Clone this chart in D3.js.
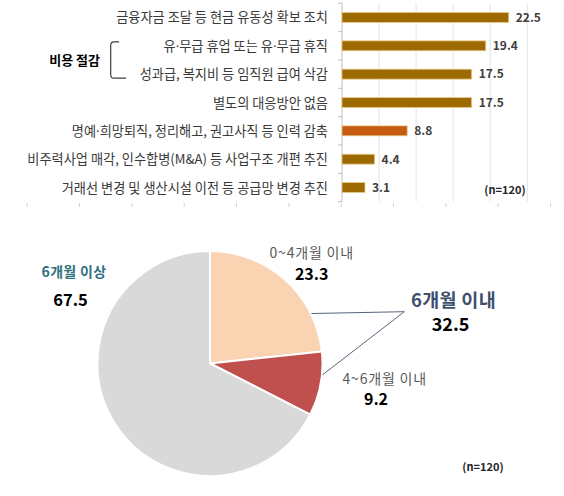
<!DOCTYPE html>
<html>
<head>
<meta charset="utf-8">
<script src="https://cdn.jsdelivr.net/npm/d3@7"></script>
<style>
  body { margin: 0; background: #fff; }
  svg { display: block; font-family: "Noto Sans CJK KR", "Noto Sans", sans-serif; }
  .blabel { font-size: 13.2px; fill: #3a3a3a; }
  .bvalue { font-size: 12px; font-weight: bold; fill: #404040; }
  .note { font-size: 11px; font-weight: bold; fill: #262626; }
  .dot { font-family: "Noto Sans", sans-serif; }
</style>
</head>
<body>
<svg width="564" height="496"></svg>
<script>
// **** data ****
var barLabels = [
  "금융자금 조달 등 현금 유동성 확보 조치",
  "유·무급 휴업 또는 유·무급 휴직",
  "성과급, 복지비 등 임직원 급여 삭감",
  "별도의 대응방안 없음",
  "명예·희망퇴직, 정리해고, 권고사직 등 인력 감축",
  "비주력사업 매각, 인수합병(M&A) 등 사업구조 개편 추진",
  "거래선 변경 및 생산시설 이전 등 공급망 변경 추진"
];
var barValues = [22.5, 19.4, 17.5, 17.5, 8.8, 4.4, 3.1];
var highlightBar = "명예·희망퇴직, 정리해고, 권고사직 등 인력 감축";
var groupName = "비용 절감";

var pieLabels = ["0~4개월 이내", "4~6개월 이내", "6개월 이상"];
var pieValues = [23.3, 9.2, 67.5];
var subTotalLabel = "6개월 이내";
var subTotalValue = 32.5;
var sampleNote = "(n=120)";

var svg = d3.select("svg");

// **** bar chart ****
var x = d3.scaleLinear().domain([0, 30]).range([342, 564.3]);
var y = d3.scaleBand().domain(barLabels).range([3.3, 201.7])
    .paddingInner(0.65).paddingOuter(0.325);

// grid lines
svg.append("g").selectAll("line").data(x.ticks(6).filter(function (t) { return t > 0; }))
    .enter().append("line")
    .attr("x1", function (d) { return x(d); }).attr("x2", function (d) { return x(d); })
    .attr("y1", 3.3).attr("y2", 201.7)
    .style("stroke", "#e3e3e3").style("stroke-width", 1);

// faint bottom tick row
var bottomTicks = d3.scaleLinear().domain([0, 10]).range([26.7, 550]);
var bt = svg.append("g").attr("transform", "translate(0,203)")
    .call(d3.axisBottom(bottomTicks).ticks(10).tickSize(4).tickFormat(""));
bt.select(".domain").remove();
bt.selectAll("line").style("stroke", "#d4d4d4");

// vertical axis with ticks on band boundaries
svg.append("line").attr("x1", 342).attr("x2", 342).attr("y1", 3.3).attr("y2", 201.7)
    .style("stroke", "#bfbfbf");
var bounds = d3.range(barLabels.length + 1).map(function (i) { return 3.3 + i * y.step(); });
svg.append("g").selectAll("line").data(bounds).enter().append("line")
    .attr("x1", 338).attr("x2", 342)
    .attr("y1", function (d) { return d; }).attr("y2", function (d) { return d; })
    .style("stroke", "#bfbfbf");

var rows = svg.append("g").selectAll("g").data(barLabels).enter().append("g");
rows.append("rect")
    .attr("x", x(0))
    .attr("y", function (d) { return y(d); })
    .attr("width", function (d, i) { return x(barValues[i]) - x(0); })
    .attr("height", y.bandwidth())
    .style("fill", function (d) { return d === highlightBar ? "#c55a11" : "#9c6a00"; })
    .style("stroke", "#e8c98a").style("stroke-width", 0.8);
rows.append("text").attr("class", "bvalue")
    .attr("x", function (d, i) { return x(barValues[i]) + 7; })
    .attr("y", function (d) { return y(d) + y.bandwidth() / 2; })
    .attr("dy", "0.36em")
    .text(function (d, i) { return barValues[i]; });

// category labels; the middle dot is set in a Latin font so it stays narrow
var lbl = rows.append("text").attr("class", "blabel")
    .attr("x", 328).attr("text-anchor", "end")
    .attr("y", function (d) { return y(d) + y.bandwidth() / 2; })
    .attr("dy", "0.38em");
lbl.each(function (d) {
  var t = d3.select(this);
  d.split(/(·)/).forEach(function (part) {
    if (!part) return;
    var s = t.append("tspan").text(part);
    if (part === "·") s.attr("class", "dot");
  });
});

// group bracket for rows 2-3
var gTop = y(barLabels[1]) + y.bandwidth() / 2 - 4;
var gBot = y(barLabels[2]) + y.bandwidth() / 2 + 4;
var br = d3.path();
br.moveTo(119, gTop); br.lineTo(114, gTop);
br.quadraticCurveTo(110.7, gTop, 110.7, gTop + 3.5);
br.lineTo(110.7, gBot - 3.5);
br.quadraticCurveTo(110.7, gBot, 114, gBot);
br.lineTo(126, gBot);
svg.append("path").attr("d", br.toString())
    .style("fill", "none").style("stroke", "#404040").style("stroke-width", 1.2);
svg.append("text").attr("x", 100).attr("y", (gTop + gBot) / 2).attr("dy", "0.38em")
    .attr("text-anchor", "end").style("font-size", "13px").style("font-weight", "bold")
    .style("fill", "#000").text(groupName);

svg.append("text").attr("class", "note").attr("x", 505).attr("y", 190)
    .attr("dy", "0.36em").attr("text-anchor", "middle").text(sampleNote);

// **** pie chart ****
var cx = 210, cy = 363.5, r = 112.5;
var pieColors = ["#fad3b3", "#c0504d", "#d9d9d9"];
var arcs = d3.pie().sort(null)(pieValues);
var arc = d3.arc().innerRadius(0).outerRadius(r);
var pie = svg.append("g").attr("transform", "translate(" + cx + "," + cy + ")");
pie.selectAll("path").data(arcs).enter().append("path")
    .attr("d", arc)
    .style("fill", function (d, i) { return pieColors[i]; })
    .style("stroke", "#fff").style("stroke-width", 2);

// leader lines from the two short-term slices to the subtotal label
var tip = [404.3, 311.7];
var leadFrac = [0.76, 0.36];
[0, 1].forEach(function (i) {
  var a = arcs[i].startAngle + leadFrac[i] * (arcs[i].endAngle - arcs[i].startAngle);
  var p = d3.pointRadial(a, r + 0.5);
  svg.append("line")
      .attr("x1", cx + p[0]).attr("y1", cy + p[1])
      .attr("x2", tip[0]).attr("y2", tip[1])
      .style("stroke", "#44546a").style("stroke-width", 0.9);
});

function label(txt, lx, ly, size, weight, color, spacing) {
  svg.append("text").attr("x", lx).attr("y", ly).attr("dy", "0.36em")
      .attr("text-anchor", "middle")
      .style("font-size", size + "px").style("font-weight", weight)
      .style("letter-spacing", (spacing || 0) + "px")
      .style("fill", color).text(txt);
}

label(pieLabels[0], 311.7, 253, 14, "normal", "#595959", 0.8);
label(pieValues[0], 311.7, 274.5, 16, "bold", "#000");
label(pieLabels[1], 384.7, 378.5, 14, "normal", "#595959", 0.8);
label(pieValues[1], 376, 399.5, 16, "bold", "#000");
label(pieLabels[2], 74, 271.7, 14, "bold", "#31707f", 0.3);
label(pieValues[2], 70.5, 300, 16.5, "bold", "#000");
label(subTotalLabel, 453.5, 300.7, 18.5, "bold", "#3d506e", 0.3);
label(subTotalValue, 450.5, 325, 18, "bold", "#000");

svg.append("text").attr("class", "note").attr("x", 483).attr("y", 466.7)
    .attr("dy", "0.36em").attr("text-anchor", "middle").text(sampleNote);
</script>
</body>
</html>
